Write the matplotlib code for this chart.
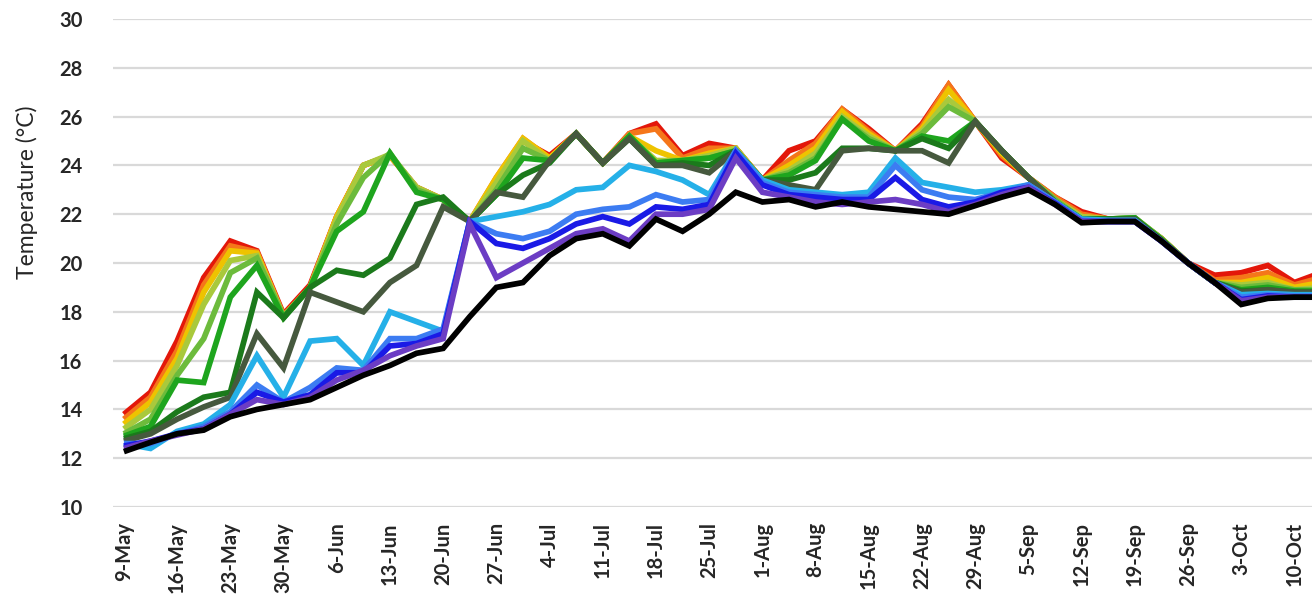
"""Water temperature profile lines, May to October."""
import matplotlib
matplotlib.use("Agg")
import matplotlib.pyplot as plt

# one label every second sample (samples are ~3.5 days apart)
TICK_LABELS = [
    "9-May", "16-May", "23-May", "30-May", "6-Jun", "13-Jun", "20-Jun", "27-Jun",
    "4-Jul", "11-Jul", "18-Jul", "25-Jul", "1-Aug", "8-Aug", "15-Aug", "22-Aug",
    "29-Aug", "5-Sep", "12-Sep", "19-Sep", "26-Sep", "3-Oct", "10-Oct",
]

red = [13.8, 14.7, 16.8, 19.4, 20.9, 20.5, 17.9, 19.1, 21.9, 24.0, 24.4, 23.1, 22.6,
       21.7, 23.4, 25.0, 24.4, 25.3, 24.1, 25.3, 25.7, 24.4, 24.9, 24.7,
       23.4, 24.6, 25.0, 26.3, 25.5, 24.6, 25.7, 27.3, 25.8, 24.3, 23.5,
       22.7, 22.1, 21.8, 21.8, 21.0, 20.0, 19.5, 19.6, 19.9, 19.2, 19.6]
orange = [13.6, 14.5, 16.4, 19.1, 20.7, 20.45, 17.85, 19.0, 21.9, 24.0, 24.4, 23.1, 22.6,
          21.7, 23.5, 25.1, 24.3, 25.3, 24.1, 25.3, 25.5, 24.3, 24.7, 24.7,
          23.4, 24.2, 24.9, 26.3, 25.4, 24.6, 25.6, 27.3, 25.8, 24.4, 23.5,
          22.7, 22.0, 21.8, 21.8, 21.0, 20.0, 19.3, 19.4, 19.6, 19.1, 19.4]
yellow = [13.4, 14.3, 16.1, 18.8, 20.5, 20.4, 17.8, 19.0, 21.9, 24.0, 24.4, 23.1, 22.6,
          21.7, 23.5, 25.1, 24.3, 25.3, 24.1, 25.2, 24.6, 24.2, 24.5, 24.7,
          23.4, 24.0, 24.7, 26.2, 25.3, 24.6, 25.5, 27.1, 25.8, 24.5, 23.5,
          22.6, 21.9, 21.8, 21.8, 21.0, 20.0, 19.2, 19.2, 19.4, 19.0, 19.2]
yellowgreen = [13.2, 14.0, 15.8, 18.3, 20.1, 20.3, 17.8, 19.0, 21.8, 24.0, 24.45, 23.1, 22.6,
               21.7, 23.3, 25.0, 24.2, 25.3, 24.1, 25.2, 24.2, 24.2, 24.4, 24.7,
               23.4, 23.8, 24.5, 26.0, 25.2, 24.6, 25.4, 26.7, 25.8, 24.6, 23.5,
               22.6, 21.9, 21.8, 21.85, 21.0, 20.0, 19.2, 19.1, 19.2, 18.9, 19.0]
lightgreen = [13.0, 13.6, 15.4, 16.9, 19.6, 20.2, 17.8, 19.0, 21.6, 23.5, 24.5, 23.0, 22.6,
              21.7, 23.0, 24.7, 24.2, 25.3, 24.1, 25.2, 24.1, 24.2, 24.3, 24.6,
              23.4, 23.7, 24.3, 25.9, 25.1, 24.6, 25.3, 26.4, 25.8, 24.6, 23.5,
              22.6, 21.8, 21.8, 21.85, 21.0, 20.0, 19.2, 19.0, 19.1, 18.9, 18.9]
green = [12.9, 13.3, 15.2, 15.1, 18.6, 19.9, 17.75, 19.0, 21.3, 22.1, 24.5, 22.9, 22.6,
         21.7, 22.8, 24.3, 24.2, 25.3, 24.1, 25.2, 24.1, 24.2, 24.3, 24.6,
         23.4, 23.6, 24.2, 25.9, 25.0, 24.6, 25.2, 25.0, 25.8, 24.6, 23.5,
         22.5, 21.8, 21.8, 21.85, 20.95, 20.0, 19.2, 18.9, 19.0, 18.85, 18.85]
forest = [12.8, 13.1, 13.9, 14.5, 14.7, 18.8, 17.75, 19.0, 19.7, 19.5, 20.2, 22.4, 22.7,
          21.7, 22.8, 23.6, 24.1, 25.3, 24.1, 25.1, 24.0, 24.1, 24.0, 24.6,
          23.4, 23.4, 23.7, 24.7, 24.7, 24.6, 25.1, 24.7, 25.8, 24.6, 23.5,
          22.5, 21.8, 21.8, 21.8, 20.95, 20.0, 19.2, 18.85, 18.9, 18.8, 18.8]
olive = [12.7, 13.0, 13.6, 14.1, 14.5, 17.1, 15.7, 18.8, 18.4, 18.0, 19.2, 19.9, 22.3,
         21.7, 22.9, 22.7, 24.2, 25.3, 24.1, 25.1, 24.0, 24.0, 23.7, 24.6,
         23.4, 23.2, 23.0, 24.6, 24.7, 24.6, 24.6, 24.1, 25.8, 24.6, 23.5,
         22.5, 21.75, 21.75, 21.8, 20.9, 20.0, 19.2, 18.8, 18.9, 18.8, 18.8]
cyan = [12.6, 12.4, 13.1, 13.4, 14.2, 16.2, 14.5, 16.8, 16.9, 15.8, 18.0, 17.6, 17.2,
        21.7, 21.9, 22.1, 22.4, 23.0, 23.1, 24.0, 23.75, 23.4, 22.8, 24.6,
        23.4, 23.0, 22.9, 22.8, 22.9, 24.3, 23.3, 23.1, 22.9, 23.0, 23.2,
        22.5, 21.8, 21.75, 21.75, 20.9, 20.0, 19.2, 18.7, 18.75, 18.7, 18.7]
dodger = [12.6, 12.6, 13.0, 13.3, 13.9, 15.0, 14.3, 14.9, 15.7, 15.6, 16.9, 16.9, 17.3,
          21.7, 21.2, 21.0, 21.3, 22.0, 22.2, 22.3, 22.8, 22.5, 22.6, 24.6,
          23.3, 22.9, 22.8, 22.7, 22.7, 24.0, 23.0, 22.7, 22.6, 22.9, 23.2,
          22.5, 21.75, 21.7, 21.7, 20.9, 20.0, 19.2, 18.6, 18.7, 18.65, 18.65]
blue = [12.5, 12.7, 13.0, 13.2, 13.8, 14.7, 14.3, 14.6, 15.5, 15.5, 16.6, 16.7, 17.1,
        21.7, 20.8, 20.6, 21.0, 21.6, 21.9, 21.6, 22.3, 22.2, 22.4, 24.5,
        23.2, 22.8, 22.7, 22.6, 22.6, 23.5, 22.6, 22.3, 22.5, 22.9, 23.1,
        22.45, 21.7, 21.7, 21.7, 20.9, 20.0, 19.2, 18.5, 18.65, 18.6, 18.6]
purple = [12.4, 12.7, 12.95, 13.2, 13.8, 14.4, 14.2, 14.5, 15.2, 15.6, 16.2, 16.6, 16.9,
          21.6, 19.4, 20.0, 20.6, 21.2, 21.4, 20.9, 22.0, 22.0, 22.2, 24.3,
          22.9, 22.7, 22.5, 22.4, 22.5, 22.6, 22.4, 22.1, 22.4, 22.8, 23.1,
          22.4, 21.7, 21.7, 21.7, 20.9, 20.0, 19.2, 18.45, 18.6, 18.6, 18.6]
black = [12.27, 12.65, 13.0, 13.15, 13.7, 14.0, 14.2, 14.4, 14.9, 15.4, 15.8, 16.3, 16.5,
         17.8, 19.0, 19.2, 20.3, 21.0, 21.2, 20.7, 21.8, 21.3, 22.0, 22.9,
         22.5, 22.6, 22.3, 22.5, 22.3, 22.2, 22.1, 22.0, 22.35, 22.7, 23.0,
         22.4, 21.65, 21.7, 21.7, 20.9, 20.0, 19.2, 18.3, 18.55, 18.6, 18.6]

SERIES = [
    (red, "#e3170a"),
    (orange, "#f5761a"),
    (yellow, "#eec300"),
    (yellowgreen, "#a9c93c"),
    (lightgreen, "#6cbb3c"),
    (green, "#1ea51e"),
    (forest, "#1b7a1b"),
    (olive, "#46593e"),
    (cyan, "#25b0e8"),
    (dodger, "#3c7cf2"),
    (blue, "#1a1ae6"),
    (purple, "#6c3dc4"),
    (black, "#000000"),
]

plt.rcParams["font.family"] = ["Lato", "DejaVu Sans"]

fig = plt.figure(figsize=(13.12, 6.10), dpi=100)
ax = fig.add_axes([113 / 1312, 1 - 507 / 610, 1 - 113 / 1312, (507 - 19) / 610])

x = list(range(len(black)))
for vals, color in SERIES:
    ax.plot(x, vals, color=color, linewidth=4.1, solid_joinstyle="miter",
            solid_capstyle="butt")

ax.set_xlim(-0.41, 44.66)
ax.set_ylim(10, 30)
ax.set_yticks(range(10, 31, 2))
ax.set_xticks(range(0, 2 * len(TICK_LABELS), 2))
ax.set_xticklabels(TICK_LABELS, rotation=90, va="top", ha="center")
ax.grid(axis="y", color="#d9d9d9", linewidth=1.6)
ax.set_axisbelow(True)
for s in ax.spines.values():
    s.set_visible(False)
ax.tick_params(axis="both", length=0, labelsize=14.5, labelcolor="#262626")
ax.tick_params(axis="y", pad=22)
ax.tick_params(axis="x", pad=11)
for lab in ax.get_xticklabels() + ax.get_yticklabels():
    lab.set_fontweight("bold")

fig.text(27 / 1312, 1 - 192 / 610, "Temperature (°C)", rotation=90,
         ha="center", va="center", fontsize=16.5, color="#262626")

fig.savefig("out.png", dpi=100)
